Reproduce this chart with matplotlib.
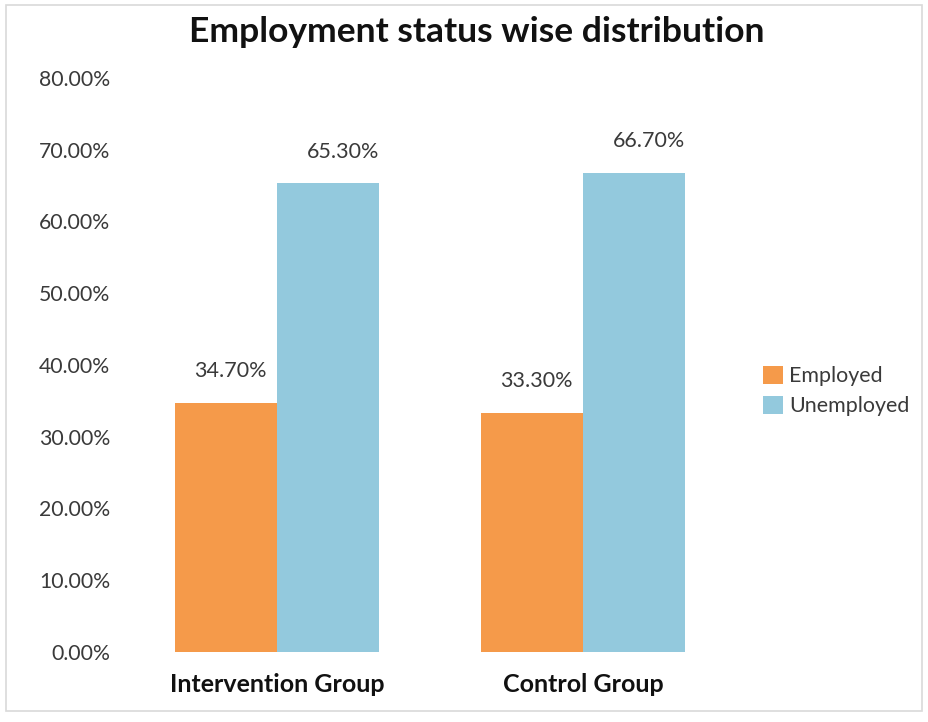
import numpy as np
import matplotlib.pyplot as plt
from matplotlib.patches import Rectangle

plt.rcParams['font.family'] = ['Lato', 'DejaVu Sans']

groups = ["Intervention Group", "Control Group"]
statuses = ["Employed", "Unemployed"]
employed = [34.70, 33.30]
unemployed = [65.30, 66.70]
yticks = [0, 10, 20, 30, 40, 50, 60, 70, 80]

colors = ["#F59A4A", "#93C9DD"]
text_col = "#3A3A3A"

fig = plt.figure(figsize=(9.29, 7.22), dpi=100)
ax = fig.add_axes([124 / 929, 70 / 722, 612 / 929, 574 / 722])

x = np.arange(len(groups))
w = 0.332
b1 = ax.bar(x - w / 2, employed, w, color=colors[0], label=statuses[0])
b2 = ax.bar(x + w / 2, unemployed, w, color=colors[1], label=statuses[1])

# value labels above each bar (x shift in points)
for bars, vals, dx in [(b1, employed, 3), (b2, unemployed, 11)]:
    for bar, v in zip(bars, vals):
        ax.annotate(f"{v:.2f}%", (bar.get_x() + bar.get_width() / 2, v),
                    xytext=(dx, 23), textcoords="offset points",
                    ha="center", va="center", fontsize=15.5, color=text_col)

ax.set_xlim(-0.5, 1.5)
ax.set_ylim(0, 80)
ax.set_yticks(yticks)
ax.set_yticklabels([f"{t:.2f}%" for t in yticks], fontsize=15.3, color=text_col)
ax.set_xticks(x)
ax.set_xticklabels(groups, fontsize=18, fontweight="bold", color="#111111")
ax.tick_params(axis="both", length=0)
ax.tick_params(axis="y", pad=10)
ax.tick_params(axis="x", pad=15)
for s in ax.spines.values():
    s.set_visible(False)

fig.text(477 / 929, 1 - 32 / 722, "Employment status wise distribution",
         ha="center", va="center", fontsize=25.5, fontweight="bold", color="#111111")

fig.legend(handles=[b1, b2], loc="center left", bbox_to_anchor=(763 / 929, 1 - 391 / 722),
           frameon=False, fontsize=15.4, handlelength=0.93, handleheight=0.93,
           handletextpad=0.3, labelspacing=0.45, borderpad=0, borderaxespad=0,
           labelcolor=text_col)

fig.patches.append(Rectangle((6 / 929, 11 / 722), 916 / 929, 706 / 722,
                             transform=fig.transFigure, fill=False,
                             edgecolor="#D9D9D9", linewidth=1.2))

fig.savefig("out.png", dpi=100)
